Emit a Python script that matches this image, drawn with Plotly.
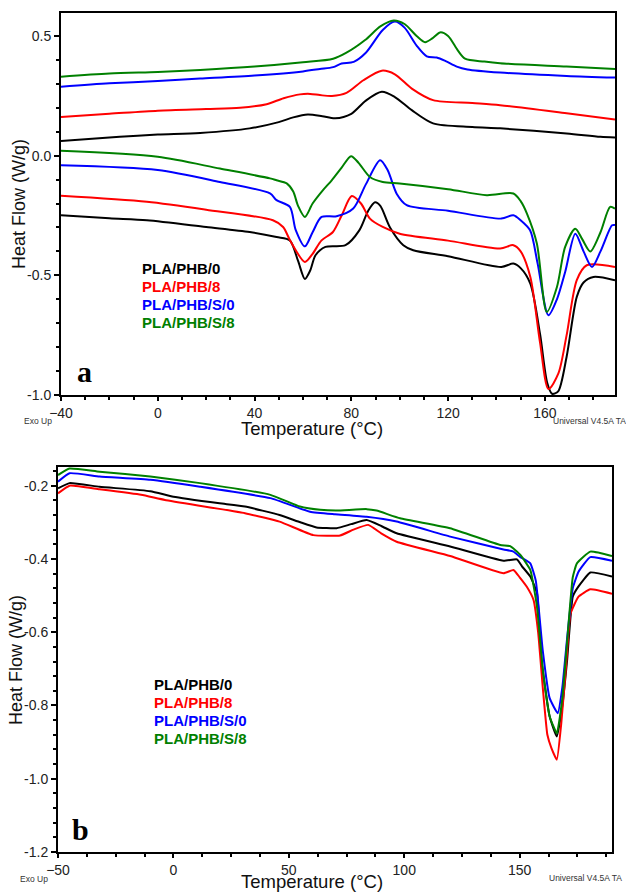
import plotly.graph_objects as go

# ---------------- Panel a data (Temperature °C, Heat Flow W/g) ----------------
a_black_up_T = [-40, -15.7, 0, 17.5, 38, 50, 56, 62, 68, 73.3, 80, 86, 92.6, 98, 105, 113.8, 130, 141.5, 169, 183, 189]
a_black_up_H = [0.061, 0.079, 0.088, 0.095, 0.114, 0.14, 0.16, 0.172, 0.165, 0.156, 0.175, 0.23, 0.267, 0.245, 0.19, 0.135, 0.12, 0.114, 0.093, 0.079, 0.076]

a_red_up_T = [-40, -20, 0, 20, 34, 45, 52, 58.8, 63, 67, 72, 78, 85, 92.6, 98, 105, 113.8, 130, 141.5, 169, 189]
a_red_up_H = [0.162, 0.175, 0.188, 0.195, 0.2, 0.215, 0.24, 0.256, 0.258, 0.253, 0.249, 0.262, 0.315, 0.355, 0.34, 0.28, 0.232, 0.22, 0.211, 0.177, 0.151]

a_blue_up_T = [-40, -20, 0, 17.5, 40, 60, 67, 72.5, 76, 81, 86, 93, 98, 102, 107, 111.2, 115.3, 119, 123.6, 128, 141.5, 169, 189]
a_blue_up_H = [0.288, 0.302, 0.312, 0.322, 0.335, 0.352, 0.362, 0.37, 0.385, 0.392, 0.43, 0.525, 0.56, 0.535, 0.46, 0.415, 0.41, 0.395, 0.372, 0.36, 0.347, 0.333, 0.326]

a_green_up_T = [-40, -20, 0, 17.5, 40, 60, 72.5, 78, 85.7, 92, 97.5, 102, 107, 110.5, 113.5, 116.7, 120, 124, 127, 135, 141.5, 169, 189]
a_green_up_H = [0.33, 0.343, 0.35, 0.358, 0.372, 0.39, 0.405, 0.43, 0.483, 0.54, 0.565, 0.55, 0.5, 0.474, 0.49, 0.515, 0.5, 0.44, 0.405, 0.393, 0.386, 0.372, 0.362]

a_black_lo_T = [-40, -20, -4.5, 20, 38, 49.1, 54.6, 58, 60.8, 63, 65.2, 69.3, 77.6, 83.3, 87, 89.8, 92, 96, 101.5, 105.6, 120, 142, 147, 150, 154, 158, 161, 163, 165.5, 169, 173.2, 176, 180.1, 189]
a_black_lo_H = [-0.249, -0.262, -0.27, -0.298, -0.319, -0.34, -0.354, -0.44, -0.515, -0.48, -0.416, -0.381, -0.374, -0.312, -0.23, -0.195, -0.21, -0.3, -0.374, -0.395, -0.42, -0.465, -0.451, -0.47, -0.535, -0.744, -0.95, -0.995, -0.985, -0.84, -0.59, -0.53, -0.507, -0.521]

a_red_lo_T = [-40, -4.5, 20, 47.6, 51.8, 55, 60.8, 64, 67.7, 72.4, 76, 80.2, 84, 87.7, 93, 100, 120, 141.5, 147, 150, 154, 158, 161.5, 165.6, 169, 173.2, 177.3, 189]
a_red_lo_H = [-0.168, -0.193, -0.226, -0.27, -0.298, -0.36, -0.444, -0.41, -0.354, -0.319, -0.25, -0.169, -0.2, -0.263, -0.298, -0.326, -0.355, -0.388, -0.374, -0.4, -0.507, -0.78, -0.975, -0.91, -0.75, -0.52, -0.458, -0.465]

a_blue_lo_T = [-40, 0, 25.7, 46.4, 49.1, 54.6, 57, 60.8, 64, 67.7, 73.9, 80.8, 86, 91.9, 95, 98.8, 102.9, 120, 142, 147, 150, 153.9, 157, 161.5, 165, 168.4, 172.6, 176, 179.5, 183, 187.8, 189]
a_blue_lo_H = [-0.04, -0.06, -0.11, -0.158, -0.186, -0.214, -0.31, -0.379, -0.32, -0.256, -0.253, -0.221, -0.12, -0.019, -0.06, -0.16, -0.207, -0.23, -0.263, -0.249, -0.27, -0.312, -0.45, -0.667, -0.6, -0.486, -0.326, -0.4, -0.465, -0.4, -0.291, -0.29]

a_green_lo_T = [-40, 0, 25.7, 46.4, 49.1, 53.3, 56, 58, 60.8, 64, 68.3, 71.9, 76, 79.9, 83, 87.7, 93, 100, 120, 136, 147, 150, 152.6, 156.7, 160.8, 165, 168.4, 172.6, 175.5, 178.8, 183, 187, 189]
a_green_lo_H = [0.02, -0.005, -0.054, -0.095, -0.103, -0.116, -0.15, -0.21, -0.256, -0.2, -0.144, -0.103, -0.05, -0.002, -0.03, -0.089, -0.11, -0.116, -0.14, -0.165, -0.158, -0.19, -0.242, -0.367, -0.653, -0.549, -0.381, -0.305, -0.35, -0.40, -0.32, -0.214, -0.221]

# ---------------- Panel b data ----------------
b_black_T = [-50, -45, -32, -10, 0, 20, 31, 46, 55, 62, 70.7, 77, 83.7, 90, 96.7, 119.9, 143, 148.8, 151, 154.6, 157.5, 159.5, 163, 166.1, 168.5, 170.5, 173, 175.5, 180.6, 190]
b_black_H = [-0.207, -0.193, -0.203, -0.215, -0.23, -0.248, -0.257, -0.28, -0.3, -0.314, -0.316, -0.305, -0.294, -0.31, -0.33, -0.366, -0.405, -0.401, -0.42, -0.448, -0.493, -0.68, -0.83, -0.885, -0.8, -0.68, -0.503, -0.475, -0.437, -0.448]

b_red_T = [-50, -45, -32, -14, -3.7, 31, 46, 60.6, 72.2, 78, 84.4, 90, 96.7, 119.9, 143, 147.3, 150, 153.1, 156, 158, 160, 162, 163.8, 166.1, 168, 170, 172, 175.5, 180.6, 190]
b_red_H = [-0.221, -0.2, -0.21, -0.225, -0.239, -0.275, -0.298, -0.335, -0.336, -0.32, -0.307, -0.33, -0.353, -0.392, -0.439, -0.43, -0.45, -0.476, -0.512, -0.6, -0.75, -0.88, -0.917, -0.948, -0.85, -0.7, -0.55, -0.503, -0.483, -0.495]

b_blue_T = [-50, -45, -32, -10, 11.5, 42, 59.2, 70, 83.7, 96.7, 119.9, 143, 147.3, 150.3, 154.6, 157, 160, 163, 166.5, 168.5, 170.5, 173, 175.5, 180.6, 190]
b_blue_H = [-0.189, -0.166, -0.175, -0.184, -0.203, -0.234, -0.271, -0.278, -0.285, -0.298, -0.339, -0.374, -0.38, -0.395, -0.412, -0.46, -0.65, -0.78, -0.821, -0.75, -0.62, -0.48, -0.435, -0.395, -0.405]

b_green_T = [-50, -45, -32, -10, 11.5, 42, 54.8, 63.6, 70.7, 83.7, 88, 98.2, 119.9, 141.6, 145.9, 150.3, 154.6, 157.5, 160, 163, 166.1, 168.5, 170.5, 173, 174.8, 180.6, 190]
b_green_H = [-0.171, -0.153, -0.162, -0.175, -0.193, -0.225, -0.257, -0.266, -0.268, -0.264, -0.268, -0.289, -0.316, -0.362, -0.365, -0.389, -0.43, -0.53, -0.7, -0.83, -0.876, -0.78, -0.63, -0.45, -0.412, -0.38, -0.392]

sample_names = ["PLA/PHB/0", "PLA/PHB/8", "PLA/PHB/S/0", "PLA/PHB/S/8"]
sample_colors = ["#000000", "#ff0000", "#0000ff", "#008000"]

a_ticks_x = [-40, 0, 40, 80, 120, 160]
a_ticks_y = [-1.0, -0.5, 0.0, 0.5]
a_ticklabels_y = ["-1.0", "-0.5", "0.0", "0.5"]
b_ticks_x = [-50, 0, 50, 100, 150]
b_ticks_y = [-1.2, -1.0, -0.8, -0.6, -0.4, -0.2]
b_ticklabels_y = ["-1.2", "-1.0", "-0.8", "-0.6", "-0.4", "-0.2"]

W, H = 626, 893
fig = go.Figure()

a_up = [(a_black_up_T, a_black_up_H), (a_red_up_T, a_red_up_H), (a_blue_up_T, a_blue_up_H), (a_green_up_T, a_green_up_H)]
a_lo = [(a_black_lo_T, a_black_lo_H), (a_red_lo_T, a_red_lo_H), (a_blue_lo_T, a_blue_lo_H), (a_green_lo_T, a_green_lo_H)]
b_all = [(b_black_T, b_black_H), (b_red_T, b_red_H), (b_blue_T, b_blue_H), (b_green_T, b_green_H)]

for (t, h), c, n in zip(a_up, sample_colors, sample_names):
    fig.add_trace(go.Scatter(x=t, y=h, mode="lines", name=n, xaxis="x", yaxis="y",
                             line=dict(color=c, width=2, shape="spline", smoothing=0.8)))
for (t, h), c, n in zip(a_lo, sample_colors, sample_names):
    fig.add_trace(go.Scatter(x=t, y=h, mode="lines", name=n, xaxis="x", yaxis="y",
                             line=dict(color=c, width=2, shape="spline", smoothing=0.8)))
for (t, h), c, n in zip(b_all, sample_colors, sample_names):
    fig.add_trace(go.Scatter(x=t, y=h, mode="lines", name=n, xaxis="x2", yaxis="y2",
                             line=dict(color=c, width=2, shape="spline", smoothing=0.4)))

tickfont = dict(family="Arial, Liberation Sans, sans-serif", size=14, color="#222")
axis_common = dict(showline=True, linecolor="black", linewidth=2, mirror=True, ticks="outside",
                   tickwidth=1.5, tickcolor="black", showgrid=False, zeroline=False,
                   tickfont=tickfont, fixedrange=True, automargin=False)

def px2x(px):
    return px / W

def py2y(py):
    return 1 - py / H

fig.update_layout(
    width=W, height=H, margin=dict(l=0, r=0, t=0, b=0, autoexpand=False),
    paper_bgcolor="white", plot_bgcolor="white", showlegend=False,
    xaxis=dict(domain=[px2x(61), px2x(615)], anchor="y", range=[-40, 189], tickvals=a_ticks_x, ticklen=4,
               minor=dict(ticks="outside", ticklen=3, dtick=10, tick0=-40, tickcolor="black"), **axis_common),
    yaxis=dict(domain=[py2y(395), py2y(13)], anchor="x", range=[-1.0, 0.596], tickvals=a_ticks_y,
               ticktext=a_ticklabels_y, ticklen=5,
               minor=dict(ticks="outside", ticklen=3, dtick=0.1, tick0=0, tickcolor="black"), **axis_common),
    xaxis2=dict(domain=[px2x(58), px2x(612)], anchor="y2", range=[-50, 190], tickvals=b_ticks_x, ticklen=4,
                minor=dict(ticks="outside", ticklen=3, dtick=12.5, tick0=-50, tickcolor="black"), **axis_common),
    yaxis2=dict(domain=[py2y(852), py2y(467)], anchor="x2", range=[-1.2, -0.149], tickvals=b_ticks_y,
                ticktext=b_ticklabels_y, ticklen=5,
                minor=dict(ticks="outside", ticklen=3, dtick=0.04, tick0=-1.2, tickcolor="black"), **axis_common),
)

annos = []
def add_text(px, py, text, size, color="black", family="Arial, Liberation Sans, sans-serif",
             xanchor="center", yanchor="middle", angle=0):
    annos.append(dict(x=px2x(px), y=py2y(py), xref="paper", yref="paper", text=text, showarrow=False,
                      font=dict(family=family, size=size, color=color), xanchor=xanchor,
                      yanchor=yanchor, textangle=angle))

# axis titles
add_text(19, 204, "Heat Flow (W/g)", 18, color="#111", angle=-90)
add_text(312, 428, "Temperature (°C)", 18.5, color="#111")
add_text(16, 660, "Heat Flow (W/g)", 18, color="#111", angle=-90)
add_text(312, 881, "Temperature (°C)", 18.5, color="#111")
# instrument notes
add_text(22, 421, "Exo Up", 8.5, color="#333", xanchor="left")
add_text(551, 421, "Universal V4.5A TA", 8.5, color="#333", xanchor="left")
add_text(18, 879, "Exo Up", 8.5, color="#333", xanchor="left")
add_text(547, 878, "Universal V4.5A TA", 8.5, color="#333", xanchor="left")
# panel letters
add_text(85, 371, "<b>a</b>", 30, family="Times New Roman, Liberation Serif, serif")
add_text(80, 829, "<b>b</b>", 30, family="Times New Roman, Liberation Serif, serif")
# legends
for i, (n, c) in enumerate(zip(sample_names, sample_colors)):
    add_text(140, 268.3 + 17.9 * i, "<b>" + n + "</b>", 15, color=c, xanchor="left")
    add_text(151.7, 684 + 18.3 * i, "<b>" + n + "</b>", 15, color=c, xanchor="left")

fig.update_layout(annotations=annos)
fig.write_html("out.html", config={"displayModeBar": False},
               post_script="document.body.style.margin='0';document.body.style.overflow='hidden';")
